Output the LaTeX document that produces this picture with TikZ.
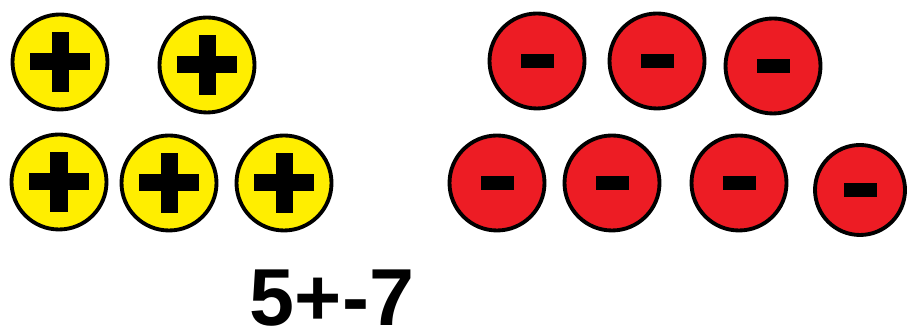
\documentclass[tikz,border=0pt]{standalone}
\usepackage{fontspec}
\setmainfont{Liberation Sans}
\definecolor{beadyellow}{RGB}{255,238,0}
\definecolor{beadred}{RGB}{237,28,36}
\tikzset{
    bead/.style={circle,draw,line width=1.1pt,minimum size=0.95cm,inner sep=0pt},
    plusbead/.style={bead,fill=beadyellow,
        path picture={
            \fill[black] ([xshift=-0.3cm,yshift=-0.085cm]path picture bounding box.center)
                rectangle ++(0.6,0.17);
            \fill[black] ([xshift=-0.085cm,yshift=-0.3cm]path picture bounding box.center)
                rectangle ++(0.17,0.6);}},
    minusbead/.style={bead,fill=beadred,
        path picture={
            \fill[black] ([xshift=-0.165cm,yshift=-0.07cm]path picture bounding box.center)
                rectangle ++(0.33,0.14);}}
}

\begin{document}
\begin{tikzpicture}
    \useasboundingbox (0,0) rectangle (9.07,3.33);
    \node[plusbead] (p1) at (0.60,2.71) {};
    \node[plusbead] (p2) at (2.07,2.68) {};
    \node[plusbead] (p3) at (0.59,1.51) {};
    \node[plusbead] (p4) at (1.69,1.50) {};
    \node[plusbead] (p5) at (2.84,1.50) {};
    \node[minusbead] (n1) at (5.37,2.72) {};
    \node[minusbead] (n2) at (6.57,2.72) {};
    \node[minusbead] (n3) at (7.73,2.67) {};
    \node[minusbead] (n4) at (4.97,1.50) {};
    \node[minusbead] (n5) at (6.12,1.50) {};
    \node[minusbead] (n6) at (7.39,1.50) {};
    \node[minusbead,minimum size=0.9cm] (n7) at (8.60,1.43) {};
    \node[font=\fontsize{23}{25}\selectfont\bfseries,inner sep=0pt,anchor=base]
        (sum) at (3.32,0.07) {5+-7};
\end{tikzpicture}
\end{document}
